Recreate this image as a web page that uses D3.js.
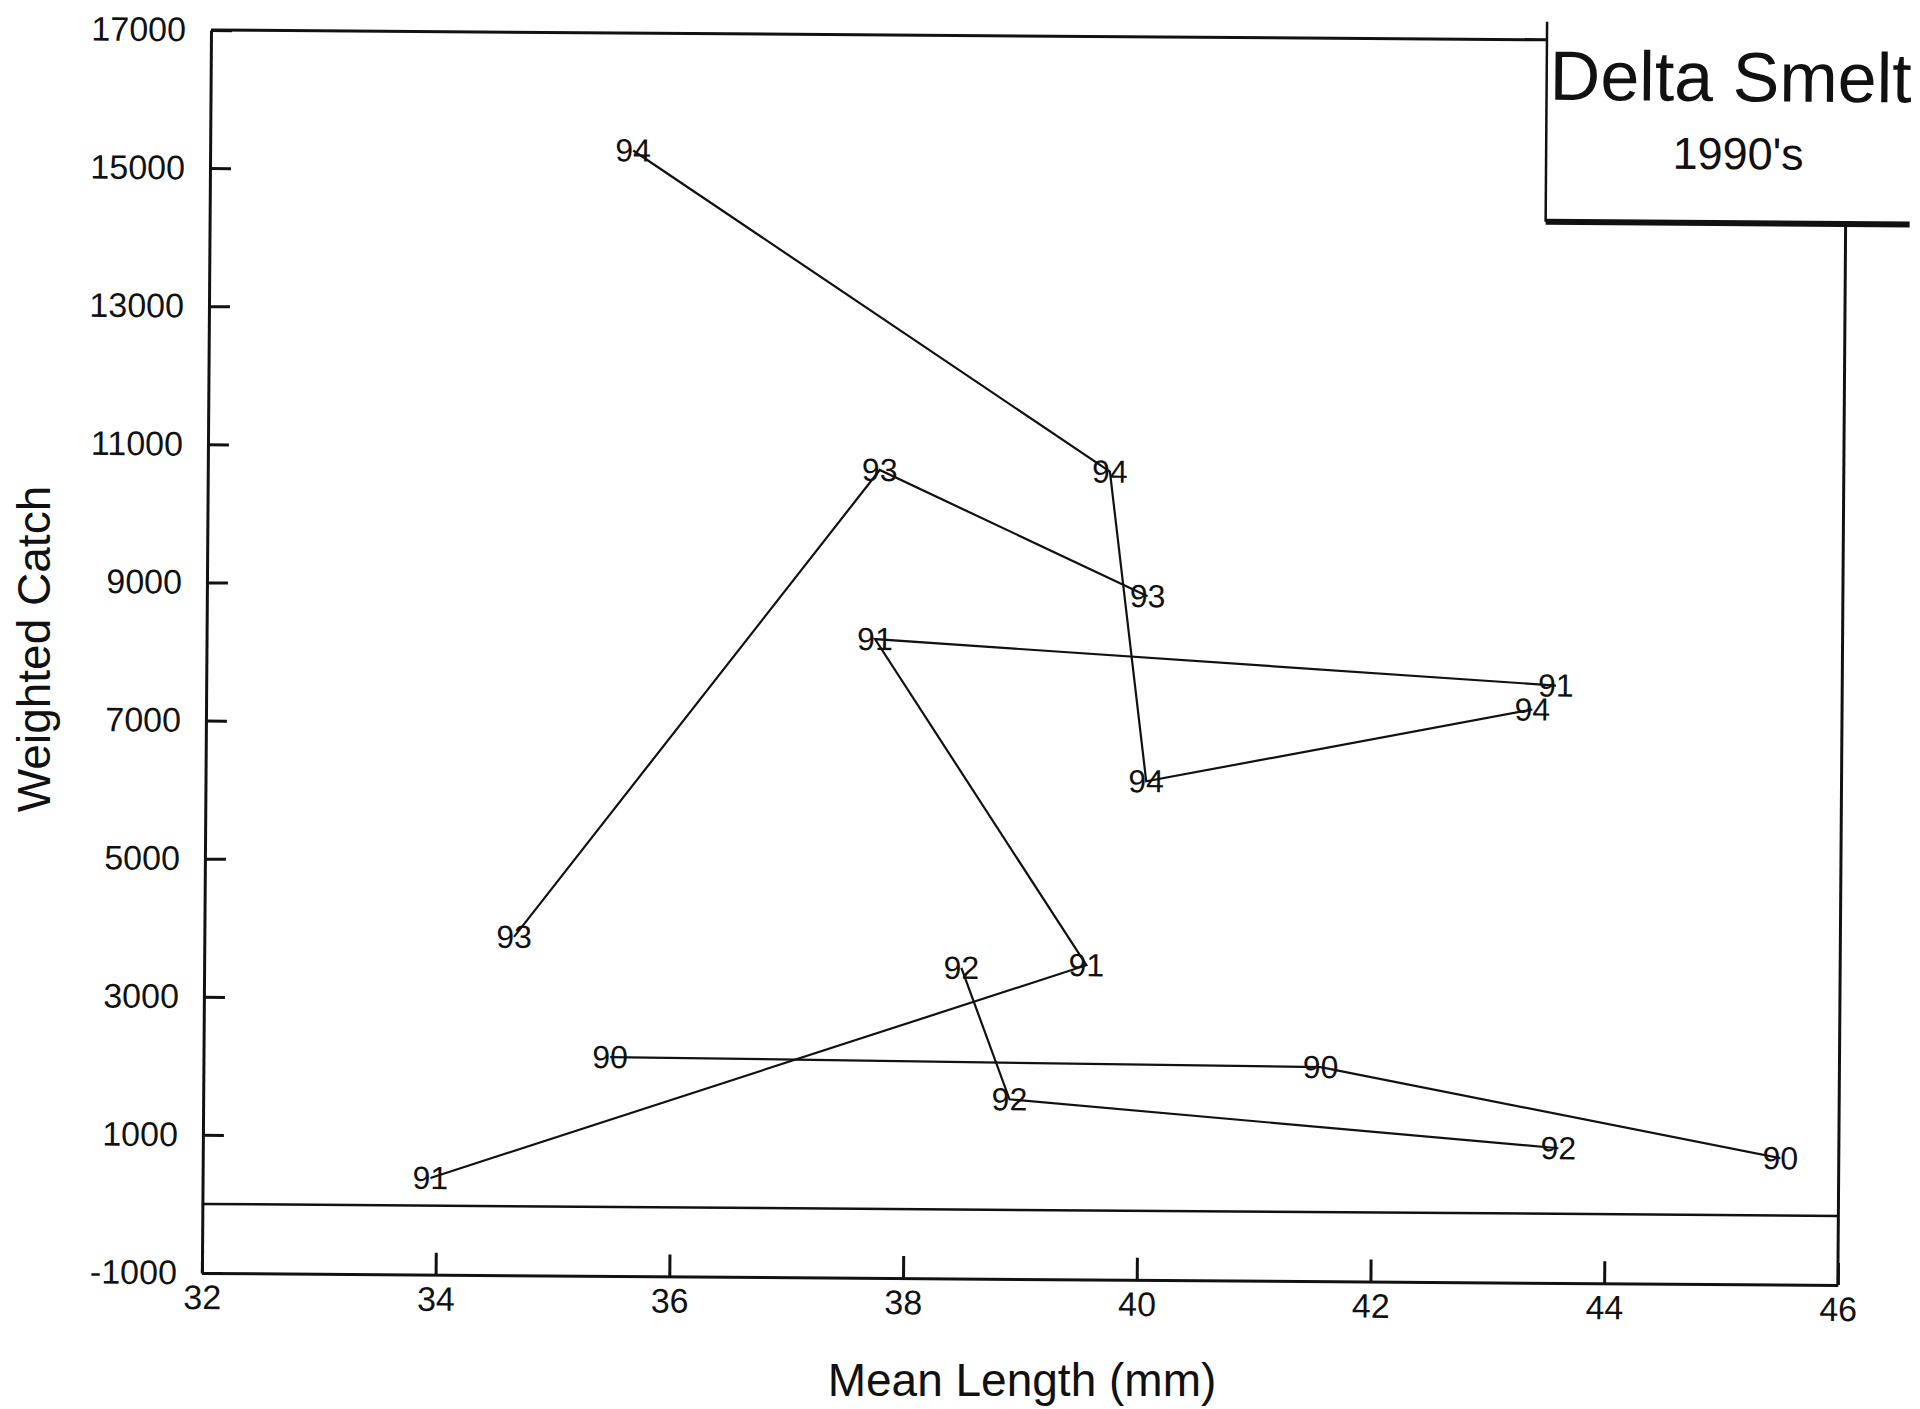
<!DOCTYPE html>
<html>
<head>
<meta charset="utf-8">
<script src="https://cdn.jsdelivr.net/npm/d3@7"></script>
<style>
  body { margin: 0; background: #fff; }
  svg { display: block; }
  text { font-family: "Liberation Sans", Arial, sans-serif; fill: #111; }
</style>
</head>
<body>
<svg id="chart" width="1920" height="1409"></svg>
<script>
// tick values
const xTicks = [32, 34, 36, 38, 40, 42, 44, 46];
const yTicks = [-1000, 1000, 3000, 5000, 7000, 9000, 11000, 13000, 15000, 17000];

// one path per year: mean length (mm), weighted catch
const year90 = [[35.48, 2170], [41.56, 2100], [45.5, 830]];
const year91 = [[33.95, 400], [39.55, 3550], [37.72, 8250], [43.55, 7650]];
const year92 = [[38.48, 3500], [38.9, 1600], [43.6, 950]];
const year93 = [[34.65, 3900], [37.75, 10700], [40.05, 8900]];
const year94 = [[35.62, 15300], [39.72, 10700], [40.05, 6220], [43.35, 7300]];

const series = [
  {label: '90', points: year90},
  {label: '91', points: year91},
  {label: '92', points: year92},
  {label: '93', points: year93},
  {label: '94', points: year94}
];

const width = 1636, height = 1243;
const svg = d3.select('#chart');

// the scanned page is turned a little, so the whole plane is too
const g = svg.append('g').attr('transform', 'translate(211,30) rotate(0.42)');

const x = d3.scaleLinear().domain([32, 46]).range([0, width]);
const y = d3.scaleLinear().domain([-1000, 17000]).range([height, 0]);

// axes, ticks pointing into the plot
const yAxis = g.append('g')
  .call(d3.axisLeft(y).tickValues(yTicks).tickSizeInner(-21).tickSizeOuter(0).tickPadding(25).tickFormat(d => String(d)));
const xAxis = g.append('g')
  .attr('transform', `translate(0,${height})`)
  .call(d3.axisBottom(x).tickValues(xTicks).tickSizeInner(-22).tickSizeOuter(0).tickPadding(12).tickFormat(d => String(d)));

[yAxis, xAxis].forEach(a => {
  a.selectAll('path, line').attr('stroke', '#111').attr('stroke-width', 3);
  a.selectAll('text').style('font-size', '34px').attr('fill', '#111');
});

// legend box position, in plot coordinates
const boxLeft = 1336, boxTop = -18, boxBottom = 182, boxRight = 1700;

const frame = g.append('g').attr('stroke', '#111').attr('fill', 'none');
frame.append('line').attr('x1', 0).attr('y1', 0).attr('x2', boxLeft).attr('y2', 0).attr('stroke-width', 3);
frame.append('line').attr('x1', width).attr('y1', boxBottom).attr('x2', width).attr('y2', height).attr('stroke-width', 3);
frame.append('line').attr('x1', 0).attr('y1', y(0)).attr('x2', width).attr('y2', y(0)).attr('stroke-width', 2.5);

// legend box
frame.append('line').attr('x1', boxLeft).attr('y1', boxTop).attr('x2', boxLeft).attr('y2', boxBottom).attr('stroke-width', 2.5);
frame.append('line').attr('x1', boxLeft).attr('y1', boxBottom).attr('x2', boxRight).attr('y2', boxBottom).attr('stroke-width', 6);

g.append('text')
  .attr('x', 1520).attr('y', 60)
  .attr('text-anchor', 'middle')
  .style('font-size', '70px')
  .text('Delta Smelt');
g.append('text')
  .attr('x', 1528).attr('y', 128)
  .attr('text-anchor', 'middle')
  .style('font-size', '45px')
  .text("1990's");

// year paths
const line = d3.line().x(d => x(d[0])).y(d => y(d[1]));

const year = g.selectAll('.year').data(series).join('g').attr('class', 'year');

year.append('path')
  .attr('d', d => line(d.points))
  .attr('fill', 'none')
  .attr('stroke', '#111')
  .attr('stroke-width', 2.2);

year.selectAll('text')
  .data(d => d.points.map(p => ({p: p, label: d.label})))
  .join('text')
  .attr('x', d => x(d.p[0]))
  .attr('y', d => y(d.p[1]))
  .attr('text-anchor', 'middle')
  .attr('dominant-baseline', 'central')
  .style('font-size', '32px')
  .text(d => d.label);

// axis titles
svg.append('text')
  .attr('transform', 'translate(50,649) rotate(-90)')
  .attr('text-anchor', 'middle')
  .style('font-size', '46px')
  .text('Weighted Catch');

svg.append('text')
  .attr('x', 1022).attr('y', 1396)
  .attr('text-anchor', 'middle')
  .style('font-size', '46px')
  .text('Mean Length (mm)');
</script>
</body>
</html>
